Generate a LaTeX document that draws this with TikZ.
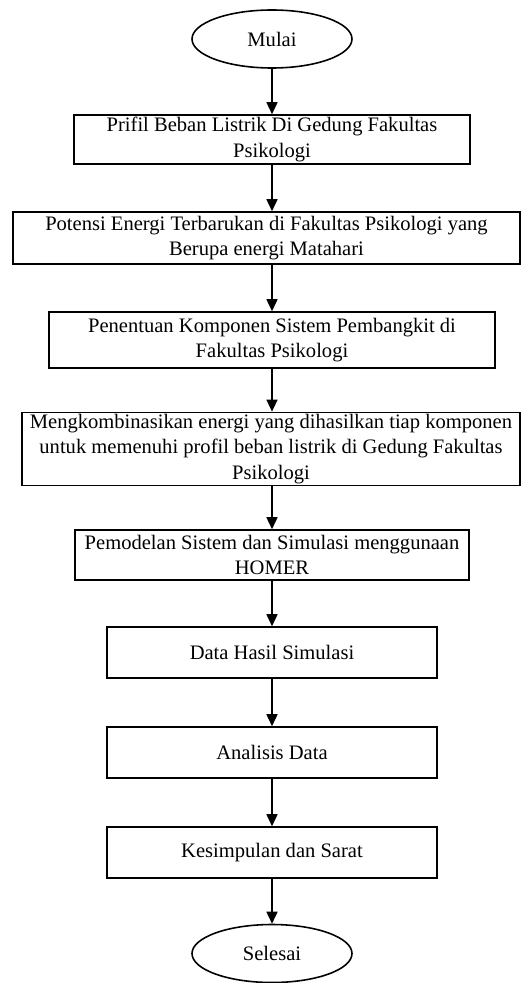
\documentclass[tikz,border=0pt]{standalone}
\usepackage{fontspec}
\setmainfont{Liberation Serif}
\usepackage{tikz}
\usetikzlibrary{positioning, arrows.meta, shapes.geometric}

\begin{document}
\begin{tikzpicture}[font=\fontsize{11.7}{14.5}\selectfont, >={Triangle[width=0.22cm,length=0.24cm]},
    box/.style={draw, line width=0.9pt, align=center, inner sep=1pt},
    term/.style={draw, ellipse, line width=0.9pt, minimum width=3.2cm, minimum height=1.16cm}]
  \useasboundingbox (0,0) rectangle (10.42,-19.66);
  \node[term] (mulai) at (5.44,-0.78) {Mulai};
  \node[box, minimum width=7.92cm, minimum height=0.98cm] (prifil) at (5.44,-2.79)
    {Prifil Beban Listrik Di Gedung Fakultas\\Psikologi};
  \node[box, minimum width=10.14cm, minimum height=1.04cm] (potensi) at (5.33,-4.76)
    {Potensi Energi Terbarukan di Fakultas Psikologi yang\\Berupa energi Matahari};
  \node[box, minimum width=8.92cm, minimum height=1.12cm] (penentuan) at (5.44,-6.8)
    {Penentuan Komponen Sistem Pembangkit di\\Fakultas Psikologi};
  \node[box, minimum width=9.96cm, minimum height=1.36cm] (kombinasi) at (5.42,-8.98)
    {Mengkombinasikan energi yang dihasilkan tiap komponen\\untuk memenuhi profil beban listrik di Gedung Fakultas\\Psikologi};
  \node[box, minimum width=7.88cm, minimum height=1cm] (pemodelan) at (5.44,-11.1)
    {Pemodelan Sistem dan Simulasi menggunaan\\HOMER};
  \node[box, minimum width=6.6cm, minimum height=1.02cm] (hasil) at (5.44,-13.05) {Data Hasil Simulasi};
  \node[box, minimum width=6.6cm, minimum height=1.02cm] (analisis) at (5.44,-15.05) {Analisis Data};
  \node[box, minimum width=6.6cm, minimum height=1.02cm] (simpulan) at (5.44,-17.05) {Kesimpulan dan Sarat};
  \node[term] (selesai) at (5.44,-19.07) {Selesai};
  \draw[->, line width=0.9pt] (mulai.south) -- (prifil.north);
  \draw[->, line width=0.9pt] (prifil.south) -- (prifil.south |- potensi.north);
  \draw[->, line width=0.9pt] (prifil.south |- potensi.south) -- (penentuan.north);
  \draw[->, line width=0.9pt] (penentuan.south) -- (penentuan.south |- kombinasi.north);
  \draw[->, line width=0.9pt] (penentuan.south |- kombinasi.south) -- (pemodelan.north);
  \draw[->, line width=0.9pt] (pemodelan.south) -- (hasil.north);
  \draw[->, line width=0.9pt] (hasil.south) -- (analisis.north);
  \draw[->, line width=0.9pt] (analisis.south) -- (simpulan.north);
  \draw[->, line width=0.9pt] (simpulan.south) -- (selesai.north);
\end{tikzpicture}
\end{document}
